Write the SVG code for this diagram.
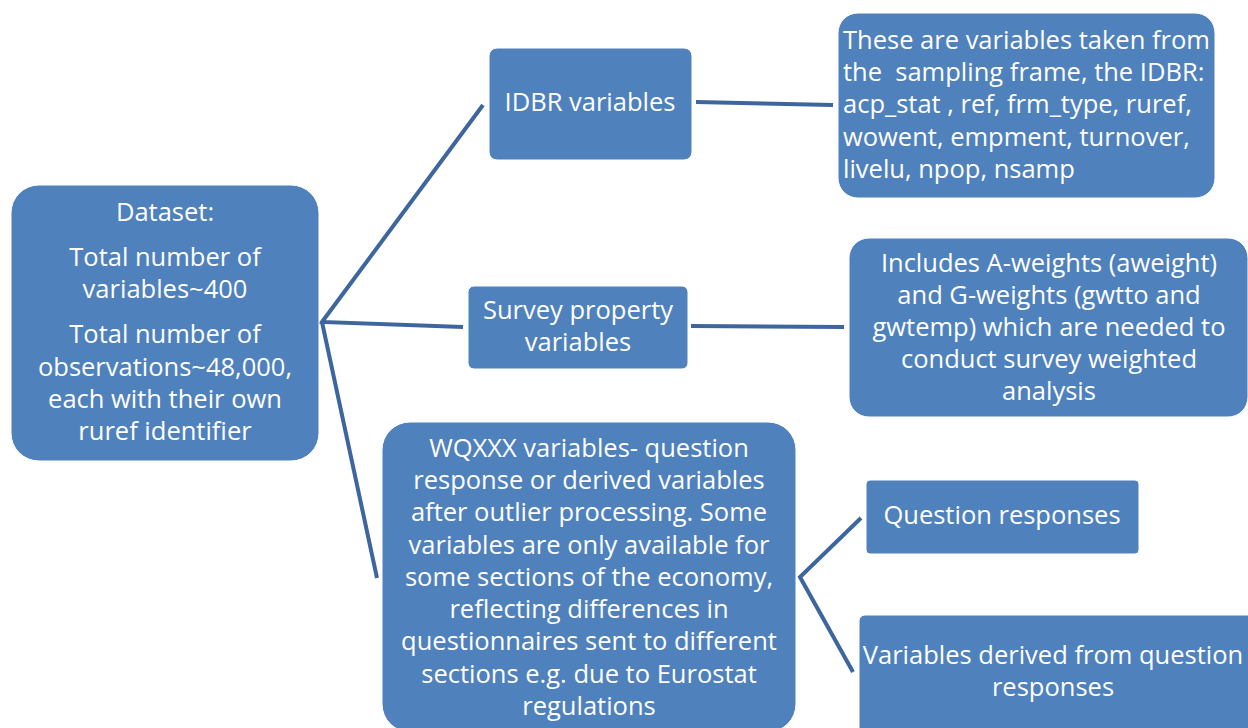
<svg xmlns="http://www.w3.org/2000/svg" width="1248" height="728" viewBox="0 0 1248 728">
<style>
.box{fill:#4F81BD;stroke:#FFFFFF;stroke-width:1}
.t{font-family:"Open Sans","Liberation Sans",sans-serif;font-size:25.5px;fill:#FFFFFF;text-anchor:middle}
.tl{text-anchor:start}
.c{stroke:#3D669E;stroke-width:4;fill:none;stroke-linecap:butt}
</style>
<rect width="1248" height="728" fill="#FFFFFF"/>
<g id="connectors">
<path class="c" d="M483 105 L322 322 L463 327"/>
<path class="c" d="M322 322 L377 578"/>
<path class="c" d="M696 102 L833 105"/>
<path class="c" d="M691 326 L844 327"/>
<path class="c" d="M861 518 L800 577 L853 672"/>
</g>
<g id="dataset">
<rect class="box" x="11" y="185" width="308" height="276" rx="28"/>
<text class="t" x="165" y="221">Dataset:</text>
<text class="t" x="165" y="266">Total number of</text>
<text class="t" x="165" y="298">variables~400</text>
<text class="t" x="165" y="343">Total number of</text>
<text class="t" x="165" y="376">observations~48,000,</text>
<text class="t" x="165" y="408">each with their own</text>
<text class="t" x="165" y="440">ruref identifier</text>
</g>
<g id="idbr">
<rect class="box" x="489" y="48" width="203" height="112" rx="8"/>
<text class="t" x="590" y="111">IDBR variables</text>
</g>
<g id="idbr-detail">
<rect class="box" x="838" y="13" width="377" height="185" rx="20"/>
<text class="t tl" x="843" y="49">These are variables taken from</text>
<text class="t tl" x="843" y="81" xml:space="preserve">the  sampling frame, the IDBR:</text>
<text class="t tl" x="843" y="113">acp_stat , ref, frm_type, ruref,</text>
<text class="t tl" x="843" y="146">wowent, empment, turnover,</text>
<text class="t tl" x="843" y="178">livelu, npop, nsamp</text>
</g>
<g id="survey">
<rect class="box" x="468" y="286" width="220" height="83" rx="6"/>
<text class="t" x="578" y="319">Survey property</text>
<text class="t" x="578" y="351">variables</text>
</g>
<g id="survey-detail">
<rect class="box" x="849" y="238" width="399" height="179" rx="20"/>
<text class="t" x="1049" y="272">Includes A-weights (aweight)</text>
<text class="t" x="1049" y="304">and G-weights (gwtto and</text>
<text class="t" x="1049" y="336">gwtemp) which are needed to</text>
<text class="t" x="1049" y="368">conduct survey weighted</text>
<text class="t" x="1049" y="400">analysis</text>
</g>
<g id="wqxxx">
<rect class="box" x="382" y="422" width="414" height="310" rx="28"/>
<text class="t" x="589" y="457">WQXXX variables- question</text>
<text class="t" x="589" y="489">response or derived variables</text>
<text class="t" x="589" y="521">after outlier processing. Some</text>
<text class="t" x="589" y="554">variables are only available for</text>
<text class="t" x="589" y="586">some sections of the economy,</text>
<text class="t" x="589" y="618">reflecting differences in</text>
<text class="t" x="589" y="650">questionnaires sent to different</text>
<text class="t" x="589" y="683">sections e.g. due to Eurostat</text>
<text class="t" x="589" y="715">regulations</text>
</g>
<g id="question-responses">
<rect class="box" x="866" y="480" width="273" height="74" rx="4"/>
<text class="t" x="1002" y="524">Question responses</text>
</g>
<g id="derived">
<rect class="box" x="859" y="615" width="395" height="120" rx="6"/>
<text class="t" x="1053" y="664">Variables derived from question</text>
<text class="t" x="1053" y="696">responses</text>
</g>
</svg>
